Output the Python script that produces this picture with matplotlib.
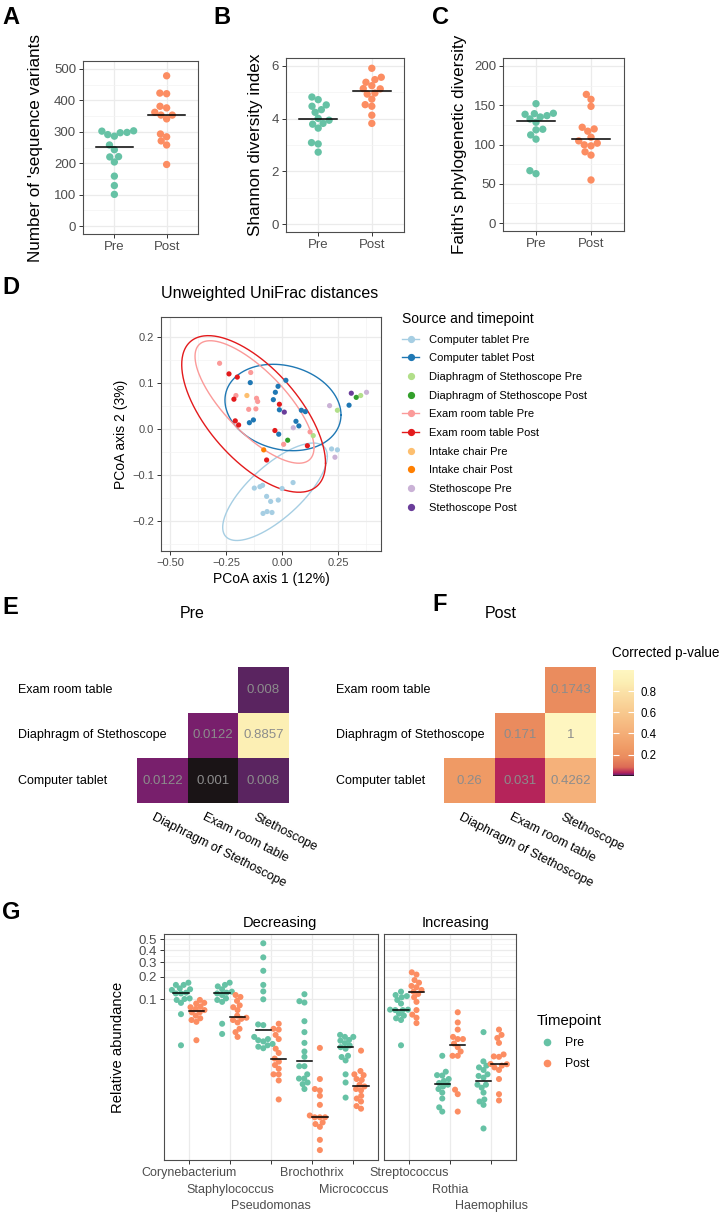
import numpy as np
import matplotlib
matplotlib.use("Agg")
import matplotlib.pyplot as plt
import matplotlib.transforms as mtransforms
from matplotlib.colors import LinearSegmentedColormap, Normalize
from matplotlib.cm import ScalarMappable
from matplotlib.lines import Line2D
from matplotlib.ticker import NullFormatter

plt.rcParams['font.family'] = ['Liberation Sans', 'DejaVu Sans']

# ---------------- data ----------------
timepoints = ['Pre', 'Post']

# A-C: alpha diversity per sample
richness_pre = [298, 291, 303, 286, 302, 297, 258, 243, 221, 220, 204, 159, 129, 101]
richness_post = [478, 421, 423, 376, 381, 362, 353, 353, 341, 284, 293, 271, 258, 196]
shannon_pre = [4.82, 4.72, 4.52, 4.47, 4.34, 4.24, 4.01, 3.94, 3.82, 3.79, 3.64, 3.04, 3.09, 2.73]
shannon_post = [5.91, 5.48, 5.57, 5.38, 5.13, 5.25, 5.14, 4.93, 4.97, 4.74, 4.53, 4.47, 4.13, 3.82]
faith_pre = [151.9, 139.2, 139.7, 138.4, 136.7, 132.5, 135.0, 128.3, 119.4, 118.6, 112.2, 106.8, 66.7, 62.9]
faith_post = [163.7, 157.4, 148.5, 119.8, 116.9, 121.9, 109.3, 98.3, 101.7, 99.6, 104.6, 86.5, 90.7, 54.9]

# D: PCoA (unweighted UniFrac)
source_groups = ['Computer tablet Pre', 'Computer tablet Post',
                 'Diaphragm of Stethoscope Pre', 'Diaphragm of Stethoscope Post',
                 'Exam room table Pre', 'Exam room table Post',
                 'Intake chair Pre', 'Intake chair Post',
                 'Stethoscope Pre', 'Stethoscope Post']
pcoa_group = ([0] * 13 + [1] * 14 + [2] * 3 + [3] * 2 + [4] * 9 + [5] * 9
              + [6] + [7] + [8] * 4 + [9] * 2)
pcoa_axis1 = [-0.125, -0.100, -0.088, -0.001, 0.048, -0.070, -0.052, -0.018, -0.086, -0.068, -0.046, 0.220, 0.246,
              -0.143, -0.040, -0.031, -0.019, 0.016, -0.013, 0.085, 0.103, -0.147, -0.129, 0.061, 0.074, -0.016, 0.298,
              0.138, 0.246, 0.350,
              0.024, 0.330,
              -0.280, -0.141, -0.207, -0.115, -0.110, -0.150, -0.118, 0.124, 0.006,
              -0.238, -0.201, -0.216, -0.013, -0.210, -0.195, -0.033, 0.112, -0.070,
              -0.158,
              -0.083,
              0.049, 0.211, 0.235, 0.376,
              0.009, 0.308]
pcoa_axis2 = [-0.128, -0.125, -0.122, -0.129, -0.116, -0.146, -0.157, -0.154, -0.183, -0.179, -0.181, -0.043, -0.045,
              0.101, 0.064, 0.080, 0.093, 0.106, 0.042, 0.041, 0.038, 0.014, 0.020, 0.017, 0.007, -0.011, 0.052,
              -0.014, 0.041, 0.073,
              -0.024, 0.069,
              0.143, 0.123, 0.073, 0.067, 0.060, 0.043, 0.044, -0.006, -0.033,
              0.120, 0.113, 0.065, 0.054, 0.018, 0.009, -0.003, -0.036, -0.067,
              0.073,
              -0.045,
              0.003, 0.051, -0.061, 0.080,
              0.037, 0.078]
# confidence ellipses: centre, half extents and correlation
ell_group = [0, 1, 4, 5]
ell_cx = [-0.0325, 0.003, -0.124, -0.128]
ell_cy = [-0.136, 0.047, 0.059, 0.033]
ell_sx = [0.2336, 0.259, 0.2656, 0.321]
ell_sy = [0.1058, 0.0938, 0.133, 0.170]
ell_rho = [0.73, -0.17, -0.745, -0.63]

# E-F: pairwise corrected p-values (rows bottom -> top)
hm_rows = ['Computer tablet', 'Diaphragm of Stethoscope', 'Exam room table']
hm_cols = ['Diaphragm of Stethoscope', 'Exam room table', 'Stethoscope']
p_pre = [[0.0122, 0.001, 0.008],
         [np.nan, 0.0122, 0.8857],
         [np.nan, np.nan, 0.008]]
p_post = [[0.26, 0.031, 0.4262],
          [np.nan, 0.171, 1.0],
          [np.nan, np.nan, 0.1743]]

# G: relative abundance of selected genera
genera_decreasing = ['Corynebacterium', 'Staphylococcus', 'Pseudomonas', 'Brochothrix', 'Micrococcus']
genera_increasing = ['Streptococcus', 'Rothia', 'Haemophilus']
coryn_pre = [0.168, 0.157, 0.157, 0.141, 0.137, 0.134, 0.123, 0.120, 0.120, 0.102, 0.100, 0.097, 0.088, 0.060, 0.020]
coryn_post = [0.097, 0.088, 0.086, 0.078, 0.076, 0.072, 0.069, 0.064, 0.064, 0.057, 0.052, 0.049, 0.046, 0.024]
staph_pre = [0.168, 0.157, 0.150, 0.137, 0.127, 0.123, 0.120, 0.114, 0.102, 0.097, 0.091, 0.043, 0.030]
staph_post = [0.114, 0.107, 0.094, 0.081, 0.076, 0.069, 0.057, 0.053, 0.051, 0.049, 0.045, 0.036, 0.032, 0.027]
pseudo_pre = [0.461, 0.338, 0.238, 0.157, 0.128, 0.099, 0.042, 0.041, 0.027, 0.025, 0.024, 0.023, 0.021, 0.020, 0.019, 0.018]
pseudo_post = [0.043, 0.036, 0.035, 0.029, 0.025, 0.0177, 0.0152, 0.0124, 0.0111, 0.0098, 0.0086, 0.0070, 0.0070, 0.0056, 0.0028]
broch_pre = [0.117, 0.093, 0.089, 0.047, 0.032, 0.0218, 0.0160, 0.0132, 0.0094, 0.0094, 0.0070, 0.0060, 0.0060, 0.0052, 0.0049, 0.0041]
broch_post = [0.0182, 0.0059, 0.0041, 0.0039, 0.0032, 0.0023, 0.00156, 0.00146, 0.00146, 0.00146, 0.00121, 0.00114, 0.00103, 0.00064, 0.00044]
micro_pre = [0.029, 0.027, 0.027, 0.0242, 0.0236, 0.0216, 0.0199, 0.0187, 0.0177, 0.0137, 0.0131, 0.0116, 0.0070, 0.0052, 0.0030]
micro_post = [0.0165, 0.0079, 0.0070, 0.0068, 0.0059, 0.0057, 0.0048, 0.0045, 0.0041, 0.0039, 0.0032, 0.0029, 0.0026, 0.0022, 0.0020]
strep_pre = [0.127, 0.114, 0.110, 0.106, 0.097, 0.086, 0.070, 0.070, 0.069, 0.069, 0.061, 0.057, 0.052, 0.049, 0.020]
strep_post = [0.228, 0.214, 0.182, 0.168, 0.152, 0.146, 0.134, 0.127, 0.118, 0.106, 0.091, 0.069, 0.059, 0.053, 0.044]
rothia_pre = [0.0137, 0.0077, 0.0068, 0.0067, 0.0059, 0.0055, 0.0051, 0.0048, 0.0045, 0.0041, 0.0036, 0.0029, 0.0021, 0.0018]
rothia_post = [0.064, 0.045, 0.035, 0.027, 0.025, 0.025, 0.0213, 0.0187, 0.0160, 0.0137, 0.0137, 0.0040, 0.0034, 0.0018]
haemo_pre = [0.032, 0.0112, 0.0096, 0.0090, 0.0082, 0.0070, 0.0066, 0.0062, 0.0048, 0.0048, 0.0043, 0.0036, 0.0028, 0.0026, 0.0023, 0.00097]
haemo_post = [0.035, 0.029, 0.026, 0.0218, 0.0144, 0.0134, 0.0132, 0.0102, 0.0101, 0.0096, 0.0090, 0.0082, 0.0059, 0.0034, 0.0027]

# ---------------- style ----------------
GREEN, ORANGE = '#66C2A5', '#FC8D62'
PAIRED = ['#A6CEE3', '#1F78B4', '#B2DF8A', '#33A02C', '#FB9A99',
          '#E31A1C', '#FDBF6F', '#FF7F00', '#CAB2D6', '#6A3D9A']
GRID_MAJ, GRID_MIN = '#EBEBEB', '#F3F3F3'
BORDER, TICKTXT = '#4D4D4D', '#4D4D4D'

W, H = 721, 1215
fig = plt.figure(figsize=(W / 100, H / 100), dpi=100)


def px_axes(left, top, right, bottom):
    return fig.add_axes([left / W, 1 - bottom / H, (right - left) / W, (bottom - top) / H])


def style_bw(ax, size):
    ax.set_axisbelow(True)
    for sp in ax.spines.values():
        sp.set_color(BORDER)
        sp.set_linewidth(0.8)
    ax.grid(which='major', color=GRID_MAJ, lw=0.9)
    ax.grid(which='minor', color=GRID_MIN, lw=0.5)
    ax.tick_params(which='major', length=3, width=0.7, color='#333333',
                   labelcolor=TICKTXT, labelsize=size, pad=2)
    ax.tick_params(which='minor', length=0)


def swarm(ax, x0, vals, diam):
    """simple beeswarm layout in pixel space, ascending priority"""
    pts = ax.transData.transform(np.column_stack([np.full(len(vals), x0), vals]))
    ys = pts[:, 1]
    offs = np.zeros(len(vals))
    placed = []
    for i in np.argsort(ys):
        y = ys[i]
        cands = [0.0]
        for px, py in placed:
            dy = y - py
            if abs(dy) < diam:
                dx = np.sqrt(diam ** 2 - dy ** 2)
                cands += [px - dx, px + dx]
        cands.sort(key=abs)
        for c in cands:
            if all((c - px) ** 2 + (y - py) ** 2 >= diam ** 2 - 1e-6 for px, py in placed):
                offs[i] = c
                break
        placed.append((offs[i], y))
    back = ax.transData.inverted().transform(np.column_stack([pts[:, 0] + offs, ys]))
    return back[:, 0]


def tag(x, y, letter):
    fig.text(x / W, 1 - y / H, letter, fontsize=17, fontweight='bold', va='baseline', ha='left')


# ---------------- A-C ----------------
alpha_panels = [
    ((83, 61, 198, 234), richness_pre, richness_post, 500, [0, 100, 200, 300, 400, 500],
     "Number of 'sequence variants", 43),
    ((286, 58, 404, 232), shannon_pre, shannon_post, 6, [0, 2, 4, 6], 'Shannon diversity index', 263),
    ((503, 58, 624, 231), faith_pre, faith_post, 200, [0, 50, 100, 150, 200],
     "Faith's phylogenetic diversity", 467),
]
for box, pre, post, top, yt, ylab, lab_right in alpha_panels:
    ax = px_axes(*box)
    ax.set_xlim(0.4, 2.6)
    ax.set_ylim(-0.05 * top, 1.05 * top)
    ax.set_yticks(yt)
    step = yt[1] - yt[0]
    ax.set_yticks([v + step / 2 for v in yt[:-1]], minor=True)
    ax.set_xticks([1, 2])
    ax.set_xticklabels(timepoints)
    style_bw(ax, 9.5)
    for i, (vals, col) in enumerate(zip([pre, post], [GREEN, ORANGE]), start=1):
        xs = swarm(ax, i, vals, 6.8)
        ax.scatter(xs, vals, s=28, c=col, edgecolors='none', zorder=3)
        m = np.median(vals)
        ax.plot([i - 0.35, i + 0.35], [m, m], color='black', lw=1.1, zorder=4)
    ax.set_ylabel(ylab, fontsize=12.3)
    ax.yaxis.set_label_coords((lab_right - box[0]) / (box[2] - box[0]), 0.5)

tag(2, 24, 'A')
tag(213, 24, 'B')
tag(432, 24, 'C')

# ---------------- D ----------------
ax_d = px_axes(161, 317, 381, 551)
ax_d.set_xlim(-0.5415, 0.4406)
ax_d.set_ylim(-0.2646, 0.2435)
ax_d.set_xticks([-0.5, -0.25, 0, 0.25])
ax_d.set_xticklabels(['\u22120.50', '\u22120.25', '0.00', '0.25'])
ax_d.set_xticks([-0.375, -0.125, 0.125, 0.375], minor=True)
ax_d.set_yticks([-0.2, -0.1, 0, 0.1, 0.2])
ax_d.set_yticklabels(['\u22120.2', '\u22120.1', '0.0', '0.1', '0.2'])
ax_d.set_yticks([-0.25, -0.15, -0.05, 0.05, 0.15], minor=True)
style_bw(ax_d, 8)

gx = np.array(pcoa_axis1)
gy = np.array(pcoa_axis2)
gg = np.array(pcoa_group)
for k in range(len(source_groups)):
    sel = gg == k
    ax_d.scatter(gx[sel], gy[sel], s=14, c=PAIRED[k], edgecolors='none', zorder=3)

t = np.linspace(0, 2 * np.pi, 300)
for k, cx, cy, sx, sy, rho in zip(ell_group, ell_cx, ell_cy, ell_sx, ell_sy, ell_rho):
    ex = cx + sx * np.cos(t)
    ey = cy + sy * (rho * np.cos(t) + np.sqrt(1 - rho ** 2) * np.sin(t))
    ax_d.plot(ex, ey, color=PAIRED[k], lw=1.0, zorder=2)

ax_d.set_title('Unweighted UniFrac distances', loc='left', fontsize=11.5, pad=14)
ax_d.set_xlabel('PCoA axis 1 (12%)', fontsize=10)
ax_d.xaxis.set_label_coords(0.5, -(572 - 551) / 234)
ax_d.xaxis.label.set_va('top')
ax_d.set_ylabel('PCoA axis 2 (3%)', fontsize=10)
ax_d.yaxis.set_label_coords((128 - 161) / 220, 0.5)

handles = [Line2D([], [], color=PAIRED[k], marker='o', markersize=4.2,
                  ls='-' if k in ell_group else 'none', lw=1.0)
           for k in range(len(source_groups))]
fig.legend(handles, source_groups, title='Source and timepoint', loc='upper left',
           bbox_to_anchor=(402 / W, 1 - 312 / H), frameon=False, fontsize=8,
           title_fontsize=10, alignment='left', handlelength=1.55, handletextpad=0.85,
           labelspacing=0.78, borderpad=0, borderaxespad=0)
tag(2, 294, 'D')

# ---------------- E-F ----------------
cmap = LinearSegmentedColormap.from_list('pval', [
    (0.0, '#1a1416'), (0.007, '#5c2462'), (0.0112, '#7a1f6d'), (0.030, '#b5245a'),
    (0.08, '#dc6a55'), (0.17, '#ea8b5e'), (0.26, '#ef9a65'), (0.43, '#f5b27b'),
    (0.6, '#f8c98e'), (0.8, '#fbe2a8'), (0.886, '#fcefb4'), (1.0, '#fef6c0')], N=4096)
norm = Normalize(vmin=0.001, vmax=1.0)


def heatmap(ax, mat, row_label_x, title, title_x):
    data = np.ma.masked_invalid(np.array(mat, dtype=float))
    ax.pcolormesh(np.arange(4), np.arange(4), data, cmap=cmap, norm=norm)
    ax.set_xlim(0, 3)
    ax.set_ylim(0, 3)
    ax.axis('off')
    for r in range(3):
        for c in range(3):
            v = mat[r][c]
            if not np.isnan(v):
                ax.text(c + 0.5, r + 0.5, f'{v:g}', ha='center', va='center',
                        color='#8C8C8C', fontsize=9.5)
    row_tr = mtransforms.blended_transform_factory(fig.transFigure, ax.transData)
    for r, name in enumerate(hm_rows):
        ax.text(row_label_x / W, r + 0.5, name, transform=row_tr, ha='left',
                va='center', fontsize=9)
    col_tr = (mtransforms.blended_transform_factory(ax.transData, ax.transAxes)
              + mtransforms.ScaledTranslation(-7 / 100, -8 / 100, fig.dpi_scale_trans))
    for c, name in enumerate(hm_cols):
        ax.text(c + 0.5, 0, name, transform=col_tr, rotation=-27, rotation_mode='anchor',
                ha='left', va='top', fontsize=9)
    fig.text(title_x / W, 1 - 618 / H, title, ha='center', va='baseline', fontsize=11.5)


ax_e = px_axes(137.3, 667.3, 288.7, 803.3)
heatmap(ax_e, p_pre, 18.3, 'Pre', 192)
ax_f = px_axes(444.3, 667.3, 596, 803.3)
heatmap(ax_f, p_post, 336, 'Post', 501)

cax = px_axes(613.3, 670, 634, 775.7)
cbar = fig.colorbar(ScalarMappable(norm=norm, cmap=cmap), cax=cax, ticks=[0.2, 0.4, 0.6, 0.8])
cbar.outline.set_visible(False)
cax.tick_params(axis='y', direction='in', color='white', length=4, width=0.8,
                left=True, right=True, labelsize=8.3, pad=5)
fig.text(612 / W, 1 - 653 / H, 'Corrected p-value', ha='left', va='center', fontsize=9.75)
tag(2, 614, 'E')
tag(432, 611, 'F')

# ---------------- G ----------------
abund_pre = [coryn_pre, staph_pre, pseudo_pre, broch_pre, micro_pre, strep_pre, rothia_pre, haemo_pre]
abund_post = [coryn_post, staph_post, pseudo_post, broch_post, micro_post, strep_post, rothia_post, haemo_post]

g_major = [0.1, 0.2, 0.3, 0.4, 0.5]
g_minor = [0.069, 0.143, 0.246, 0.348, 0.45]
ax_g1 = px_axes(164, 934, 378, 1160)
ax_g2 = px_axes(384, 934, 516, 1160)
facets = [(ax_g1, genera_decreasing, 0, 'Decreasing'), (ax_g2, genera_increasing, 5, 'Increasing')]
label_rows = [1173, 1190, 1206]
for ax, genera, start, strip in facets:
    ax.set_yscale('logit')
    ax.set_ylim(3.06e-4, 0.5457)
    ax.set_xlim(0.4, len(genera) + 0.6)
    ax.set_yticks(g_major)
    ax.set_yticklabels([f'{v:g}' for v in g_major])
    ax.set_yticks(g_minor, minor=True)
    ax.yaxis.set_minor_formatter(NullFormatter())
    ax.set_xticks(range(1, len(genera) + 1))
    ax.set_xticklabels([''] * len(genera))
    style_bw(ax, 9.5)
    lab_tr = mtransforms.blended_transform_factory(ax.transData, fig.transFigure)
    for j, name in enumerate(genera):
        xc = j + 1
        ax.text(xc, 1 - label_rows[j % 3] / H, name, transform=lab_tr, ha='center',
                va='center', fontsize=9, color=TICKTXT)
        for vals, col, sgn in [(abund_pre[start + j], GREEN, -1), (abund_post[start + j], ORANGE, 1)]:
            cx = xc + sgn * 0.1875
            xs = swarm(ax, cx, vals, 5.2)
            ax.scatter(xs, vals, s=19, c=col, edgecolors='none', zorder=3)
            m = np.median(vals)
            ax.plot([cx - 0.1875, cx + 0.1875], [m, m], color='black', lw=1.1, zorder=4)
    ax.set_title(strip, fontsize=10.5, x=0.54, pad=5)

ax_g2.tick_params(axis='y', which='both', left=False, labelleft=False)
ax_g1.set_ylabel('Relative abundance', fontsize=10.6)
ax_g1.yaxis.set_label_coords((125 - 164) / 214, 0.5)

g_handles = [Line2D([], [], color=c, marker='o', ls='none', markersize=4.5) for c in (GREEN, ORANGE)]
fig.legend(g_handles, timepoints, title='Timepoint', loc='upper left',
           bbox_to_anchor=(537 / W, 1 - 1014 / H), frameon=False, fontsize=8.8,
           title_fontsize=10.7, alignment='left', handlelength=1.7, handletextpad=0.55,
           labelspacing=0.75, borderpad=0, borderaxespad=0)
tag(2, 919, 'G')

fig.savefig('out.png', dpi=100)
